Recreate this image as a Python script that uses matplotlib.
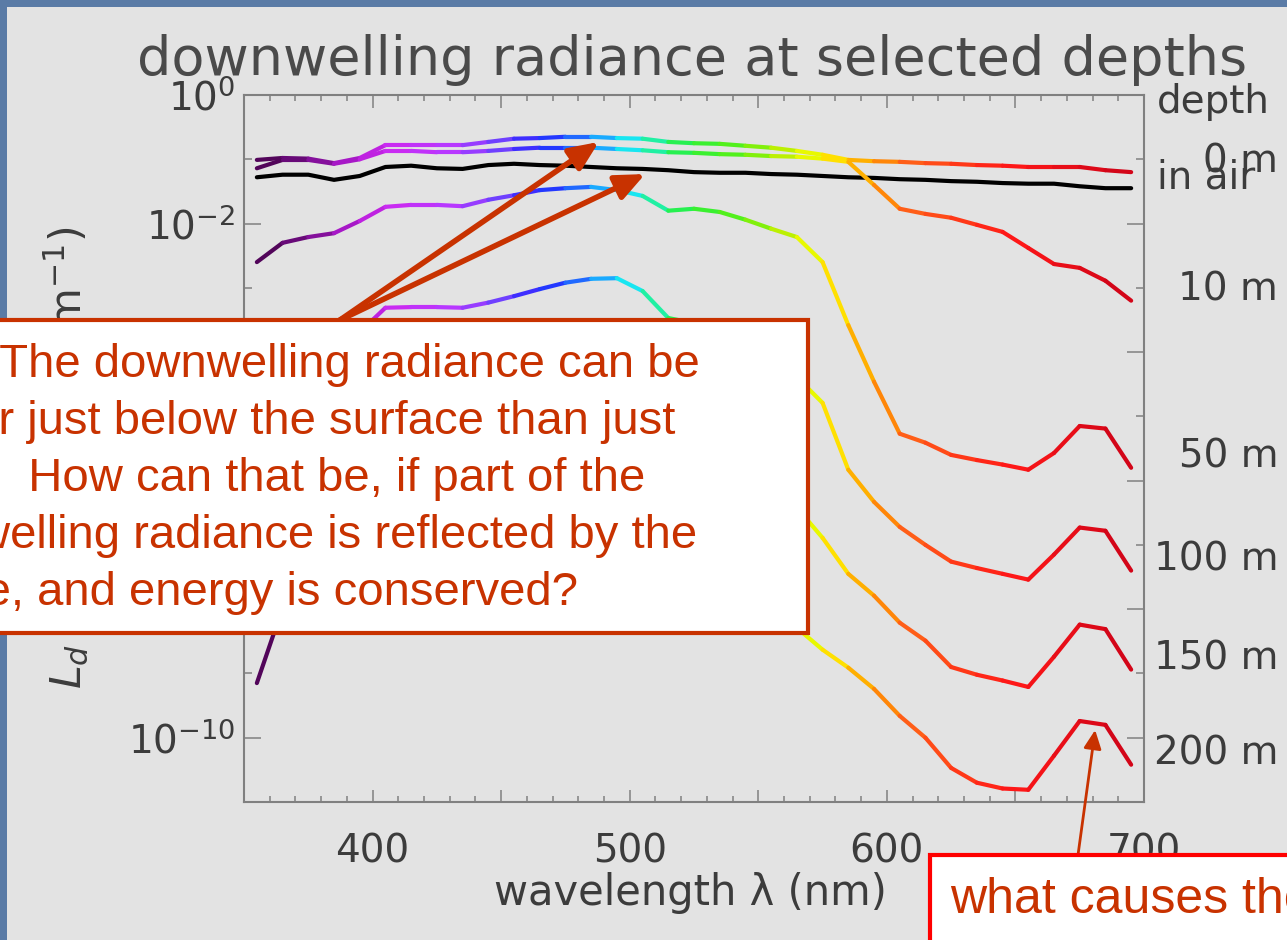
import numpy as np
import matplotlib
matplotlib.use('Agg')
import matplotlib.pyplot as plt
from matplotlib.collections import LineCollection
from matplotlib.colors import LinearSegmentedColormap, Normalize
from matplotlib.patches import Rectangle
from matplotlib.ticker import MultipleLocator, FixedLocator, FuncFormatter, NullFormatter

# wavelength band centres (nm)
wavelength = np.arange(355, 700, 10)

# log10 of downwelling radiance
log_air = [-1.28, -1.24, -1.24, -1.32, -1.26, -1.12, -1.10, -1.14, -1.15, -1.09, -1.07, -1.09,
           -1.10, -1.12, -1.14, -1.15, -1.17, -1.20, -1.21, -1.21, -1.23, -1.24, -1.26, -1.28,
           -1.29, -1.31, -1.32, -1.34, -1.35, -1.37, -1.38, -1.38, -1.42, -1.45, -1.45]
log_0m = [-1.01, -0.98, -0.99, -1.06, -0.98, -0.78, -0.78, -0.78, -0.78, -0.73, -0.68, -0.67,
          -0.65, -0.65, -0.67, -0.68, -0.73, -0.75, -0.76, -0.79, -0.82, -0.87, -0.93, -1.01,
          -1.03, -1.04, -1.06, -1.07, -1.09, -1.10, -1.12, -1.12, -1.12, -1.17, -1.20]
log_10m = [-1.14, -1.01, -1.01, -1.07, -1.00, -0.87, -0.87, -0.89, -0.89, -0.87, -0.84, -0.82,
           -0.82, -0.82, -0.84, -0.86, -0.89, -0.90, -0.92, -0.93, -0.95, -0.96, -0.99, -1.04,
           -1.40, -1.77, -1.85, -1.91, -2.02, -2.13, -2.38, -2.63, -2.69, -2.89, -3.20]
log_50m = [-2.60, -2.30, -2.21, -2.15, -1.96, -1.74, -1.71, -1.71, -1.73, -1.63, -1.56, -1.48,
           -1.45, -1.43, -1.48, -1.57, -1.80, -1.77, -1.82, -1.94, -2.08, -2.21, -2.60, -3.58,
           -4.46, -5.27, -5.41, -5.60, -5.68, -5.75, -5.83, -5.57, -5.15, -5.19, -5.80]
log_100m = [-4.71, -4.32, -4.15, -4.04, -3.69, -3.31, -3.30, -3.30, -3.31, -3.23, -3.13, -3.02,
            -2.92, -2.86, -2.85, -3.05, -3.47, -3.55, -3.67, -3.89, -4.12, -4.39, -4.79, -5.83,
            -6.33, -6.72, -7.00, -7.26, -7.36, -7.45, -7.54, -7.15, -6.73, -6.78, -7.40]
log_150m = [-6.83, -6.35, -6.10, -5.94, -5.41, -4.88, -4.88, -4.88, -4.90, -4.84, -4.70, -4.56,
            -4.40, -4.29, -4.22, -4.53, -5.13, -5.32, -5.52, -5.83, -6.16, -6.42, -6.89, -7.45,
            -7.79, -8.21, -8.49, -8.90, -9.02, -9.11, -9.21, -8.74, -8.24, -8.31, -8.94]
log_200m = [-9.15, -7.98, -7.70, -7.54, -7.08, -6.45, -6.45, -6.45, -6.47, -6.38, -6.22, -6.07,
            -5.91, -5.77, -5.68, -5.99, -6.77, -7.05, -7.36, -7.70, -8.01, -8.29, -8.63, -8.91,
            -9.24, -9.66, -10.00, -10.47, -10.70, -10.79, -10.81, -10.28, -9.74, -9.80, -10.42]

depth_curves = [log_0m, log_10m, log_50m, log_100m, log_150m, log_200m]
depth_labels = ['0 m', '10 m', '50 m', '100 m', '150 m', '200 m']

W, H = 1287, 940
RED = '#c83200'
GREY = '#3c3c3c'


def fx(px):
    return px / W


def fy(py):
    return 1 - py / H


fig = plt.figure(figsize=(W / 100, H / 100), dpi=100)
fig.patch.set_facecolor('#5a7ba6')
fig.add_artist(Rectangle((fx(7), 0), 1, 1 - 7 / H, transform=fig.transFigure,
                         facecolor='#e3e3e3', edgecolor='none', zorder=-1))

ax = fig.add_axes([fx(244), fy(802), 900 / W, 707 / H])
ax.set_facecolor('#e3e3e3')

# rainbow colouring by wavelength
stops = [(350, '#3c003c'), (370, '#6a0a7a'), (390, '#a818c8'), (405, '#cc28f0'), (430, '#b838ff'),
         (450, '#7040ff'), (465, '#2424ff'), (482, '#2070ff'), (492, '#18b8ff'), (500, '#18e8f0'),
         (510, '#20f0a8'), (522, '#28f040'), (545, '#60f010'), (562, '#c8f000'), (575, '#ffff00'),
         (585, '#ffc800'), (595, '#ff9800'), (610, '#ff6018'), (630, '#ff3818'), (650, '#ff1818'),
         (700, '#c80018')]
spec = LinearSegmentedColormap.from_list('spec', [((w - 350) / 350, c) for w, c in stops])
norm = Normalize(350, 700)

ax.plot(wavelength, 10.0 ** np.array(log_air), color='black', lw=3, solid_capstyle='round')
for curve in depth_curves:
    pts = np.column_stack([wavelength, 10.0 ** np.array(curve)])
    segs = np.stack([pts[:-1], pts[1:]], axis=1)
    mid = (wavelength[:-1] + wavelength[1:]) / 2
    lc = LineCollection(segs, colors=spec(norm(mid)), linewidths=3,
                        capstyle='round', joinstyle='round')
    ax.add_collection(lc)

ax.set_xlim(350, 700)
ax.set_yscale('log')
ax.set_ylim(1e-11, 1)
ax.xaxis.set_major_locator(MultipleLocator(50))
ax.xaxis.set_minor_locator(MultipleLocator(10))
ax.xaxis.set_major_formatter(FuncFormatter(lambda v, p: f'{v:.0f}' if v % 100 == 0 else ''))
ax.yaxis.set_major_locator(FixedLocator(10.0 ** np.arange(0, -11, -2)))
ax.yaxis.set_minor_locator(FixedLocator(10.0 ** np.arange(-1, -12, -2)))
ax.yaxis.set_major_formatter(FuncFormatter(lambda v, p: r'$10^{%d}$' % round(np.log10(v))))
ax.yaxis.set_minor_formatter(NullFormatter())

ax.tick_params(which='both', direction='in', top=True, right=True, color='#808080',
               width=1.1, labelsize=28, labelcolor=GREY)
ax.tick_params(axis='x', which='major', length=9, pad=22)
ax.tick_params(axis='x', which='minor', length=4.5)
ax.tick_params(axis='y', which='major', length=12, pad=6)
ax.tick_params(axis='y', which='minor', length=6)
for s in ax.spines.values():
    s.set_color('#808080')
    s.set_linewidth(1.5)

fig.text(fx(692), fy(75), 'downwelling radiance at selected depths', ha='center',
         va='baseline', fontsize=39, color='#4a4a4a')
fig.text(fx(690), fy(905), 'wavelength λ (nm)', ha='center', va='baseline',
         fontsize=30, color=GREY)
fig.text(fx(66), fy(458), r'$L_d$ (W m$^{-2}$ sr$^{-1}$ nm$^{-1}$)', rotation=90,
         ha='center', va='center', fontsize=31, color=GREY)

# depth labels at the right end of each curve
ytr = ax.get_yaxis_transform()
ax.text(1.014, 1 - 18 / 707, 'depth', transform=ax.transAxes, ha='left', va='baseline',
        fontsize=28, color=GREY)
ax.text(1.014, 10.0 ** log_air[-1], 'in air', transform=ytr, ha='left', va='baseline',
        fontsize=28, color=GREY)
for curve, lab in zip(depth_curves, depth_labels):
    ax.text(1.149, 10.0 ** curve[-1], lab, transform=ytr, ha='right', va='baseline',
            fontsize=28, color=GREY)

# question box
fig.add_artist(Rectangle((fx(-20), fy(633)), 828 / W, 313 / H, transform=fig.transFigure,
                         facecolor='white', edgecolor=RED, lw=3, zorder=5))
question = [('Q: The downwelling radiance can be', 700, 377),
            ('higher just below the surface than just', 675, 434),
            ('above.  How can that be, if part of the', 645, 491),
            ('downwelling radiance is reflected by the', 697, 548),
            ('surface, and energy is conserved?', 578, 605)]
for line, xr, yb in question:
    fig.text(fx(xr), fy(yb), line, ha='right', va='baseline', fontsize=34, color=RED,
             family='Liberation Sans', zorder=6)

arrow_targets = [(488, 10 ** -0.73), (506, 10 ** -1.23)]
for xy in arrow_targets:
    ax.annotate('', xy=xy, xycoords='data', xytext=(fx(340), fy(320)),
                textcoords='figure fraction', zorder=10,
                arrowprops=dict(arrowstyle='-|>,head_length=0.8,head_width=0.35', color=RED,
                                lw=4, mutation_scale=22, shrinkA=0, shrinkB=0))

# bump box
fig.add_artist(Rectangle((fx(930), fy(960)), 400 / W, 105 / H, transform=fig.transFigure,
                         facecolor='white', edgecolor='#ff0000', lw=3, zorder=5))
fig.text(fx(950), fy(913), 'what causes the bump?', ha='left', va='baseline', fontsize=36,
         color=RED, family='Liberation Sans', zorder=6)
ax.annotate('', xy=(681, 10 ** -9.88), xycoords='data', xytext=(fx(1078), fy(855)),
            textcoords='figure fraction', zorder=10,
            arrowprops=dict(arrowstyle='-|>,head_length=0.8,head_width=0.38', color=RED,
                            lw=2, mutation_scale=14, shrinkA=0, shrinkB=0))

fig.savefig('out.png', dpi=100)
